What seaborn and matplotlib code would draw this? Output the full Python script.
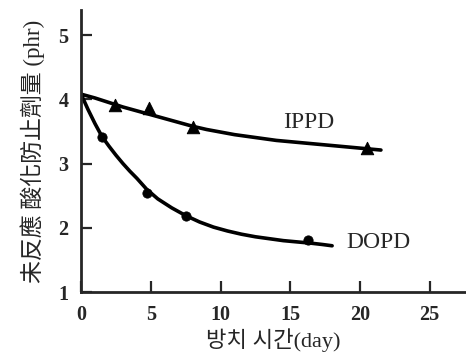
import numpy as np
import pandas as pd
import seaborn as sns
import matplotlib.pyplot as plt

ippd_day = [2.4, 4.9, 8.0, 20.5]
ippd_phr = [3.91, 3.86, 3.57, 3.24]
dopd_day = [1.5, 4.7, 7.5, 16.3]
dopd_phr = [3.41, 2.54, 2.18, 1.81]

# hand-drawn trend curves
ippd_curve_day = [0, 1, 2, 3, 4, 5, 6, 7, 8, 9, 10, 11, 12, 13, 14, 15, 16, 17, 18, 19, 20, 21, 21.5]
ippd_curve_phr = [4.08, 4.02, 3.95, 3.88, 3.82, 3.76, 3.70, 3.64, 3.58, 3.53, 3.49, 3.45,
                  3.42, 3.39, 3.36, 3.34, 3.32, 3.30, 3.28, 3.26, 3.24, 3.22, 3.21]
dopd_curve_day = [0, 0.5, 1, 1.5, 2, 2.5, 3, 3.5, 4, 4.7, 5.5, 6.5, 7.5, 8.5, 9.5, 10.5,
                  11.5, 12.5, 13.5, 14.5, 15.5, 16.5, 17.3, 18]
dopd_curve_phr = [4.08, 3.84, 3.62, 3.42, 3.27, 3.13, 3.00, 2.88, 2.77, 2.60, 2.45, 2.31,
                  2.19, 2.09, 2.01, 1.95, 1.90, 1.86, 1.83, 1.80, 1.78, 1.76, 1.74, 1.72]

x_ticks = [0, 5, 10, 15, 20, 25]
y_ticks = [1, 2, 3, 4, 5]

sns.set_style("ticks")
plt.rcParams['font.family'] = ['Liberation Serif', 'Noto Sans CJK TC']

fig = plt.figure(figsize=(4.66, 3.57), dpi=100)
ax = fig.add_axes([0.174, 0.182, 0.826, 0.79])

sns.lineplot(x=ippd_curve_day, y=ippd_curve_phr, ax=ax, color='black', lw=2.6, sort=False)
sns.lineplot(x=dopd_curve_day, y=dopd_curve_phr, ax=ax, color='black', lw=2.6, sort=False)
sns.scatterplot(x=ippd_day, y=ippd_phr, ax=ax, marker='^', s=80, color='black', edgecolor='black', zorder=3)
sns.scatterplot(x=dopd_day, y=dopd_phr, ax=ax, marker='o', s=45, color='black', edgecolor='black', zorder=3)

ax.text(14.5, 3.64, 'IPPD', fontsize=17, va='center')
ax.text(19.0, 1.77, 'DOPD', fontsize=17, va='center')

ax.set_xlim(0, 27.6)
ax.set_ylim(1, 5.39)
ax.set_xticks(x_ticks)
ax.set_yticks(y_ticks)
ax.tick_params(direction='in', length=8, width=1.6, labelsize=14.5, pad=9)
for lab in ax.get_xticklabels() + ax.get_yticklabels():
    lab.set_fontweight('bold')
sns.despine(ax=ax)
for sp in ['left', 'bottom']:
    ax.spines[sp].set_linewidth(2)

ax.set_xlabel('방치 시간(day)', fontsize=16, family=['Liberation Serif', 'Noto Sans CJK KR'], labelpad=3)
ax.set_ylabel('未反應 酸化防止劑量 (phr)', fontsize=16.5, family=['Liberation Serif', 'Noto Sans CJK TC'], labelpad=10)

fig.savefig('out.png', dpi=100)
